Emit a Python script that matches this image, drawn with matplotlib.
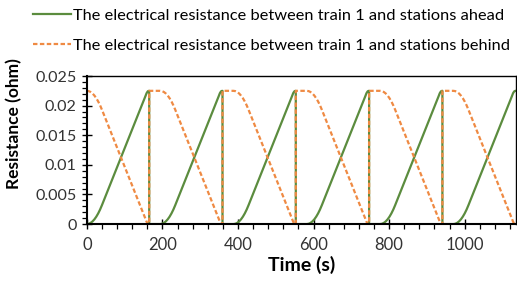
import matplotlib
matplotlib.use("Agg")
import matplotlib.pyplot as plt
import numpy as np
from matplotlib.ticker import MultipleLocator

# Departure times of train 1 (s); each run lasts 165 s, then dwell until next departure
departures = [0, 194, 388, 582, 776, 970]
run_duration = 165
x_max = 1135

# Resistance profile during one run (time offset from departure, ohm)
run_offsets = [0, 5, 10, 15, 20, 25, 30, 35, 40, 60, 80, 100, 120, 140, 155, 158, 161, 163, 165]
ahead_profile = [0, 0.00005, 0.0002, 0.00045, 0.0008, 0.00125, 0.0018, 0.00245, 0.0032,
                 0.0064, 0.0096, 0.0128, 0.016, 0.0192, 0.0216, 0.0221, 0.0224, 0.02248, 0.0225]
behind_profile = [0.0225, 0.02245, 0.0223, 0.02205, 0.0217, 0.02125, 0.0207, 0.02005, 0.0193,
                  0.0161, 0.0129, 0.0097, 0.0065, 0.0033, 0.0009, 0.0004, 0.0001, 0.00002, 0]
ahead_dwell = 0.0
behind_dwell = 0.0225

series_labels = ["The electrical resistance between train 1 and stations ahead",
                 "The electrical resistance between train 1 and stations behind"]
x_ticks = [0, 200, 400, 600, 800, 1000]
y_ticks = [0, 0.005, 0.01, 0.015, 0.02, 0.025]
y_tick_labels = ["0", "0.005", "0.01", "0.015", "0.02", "0.025"]

# Assemble the time series from the per-run profiles
t_all, ahead_all, behind_all = [], [], []
for i, d in enumerate(departures):
    for o, a, b in zip(run_offsets, ahead_profile, behind_profile):
        t_all.append(d + o)
        ahead_all.append(a)
        behind_all.append(b)
    arr = d + run_duration
    if arr < x_max:
        nxt = departures[i + 1] if i + 1 < len(departures) else x_max
        t_all += [arr, nxt]
        ahead_all += [ahead_dwell, ahead_dwell]
        behind_all += [behind_dwell, behind_dwell]

plt.rcParams['font.family'] = ['Lato', 'DejaVu Sans']

fig = plt.figure(figsize=(5.17, 2.88), dpi=100)
ax = fig.add_axes([0.168, 0.222, 0.8295, 0.514])

green = "#5b8c3e"
orange = "#ef8a43"
l1, = ax.plot(t_all, ahead_all, color=green, lw=1.6, label=series_labels[0])
l2, = ax.plot(t_all, behind_all, color=orange, lw=1.6, linestyle=(0, (2, 1.1)), label=series_labels[1])

ax.set_xlim(0, x_max)
ax.set_ylim(0, 0.025)
ax.xaxis.set_minor_locator(MultipleLocator(40))
ax.yaxis.set_minor_locator(MultipleLocator(0.001))
ax.set_yticks(y_ticks)
ax.set_yticklabels(y_tick_labels)
ax.set_xticks(x_ticks)
ax.set_xticklabels([str(v) for v in x_ticks])

ax.tick_params(axis='both', which='major', direction='inout', length=7, width=1.0,
               colors='black', labelcolor='#333333')
ax.tick_params(axis='y', which='major', labelsize=11.6, pad=4)
ax.tick_params(axis='x', which='major', labelsize=12, pad=6)
ax.tick_params(axis='both', which='minor', direction='out', length=3.5, width=0.9)

for side in ['left', 'bottom']:
    ax.spines[side].set_linewidth(1.5)
for side in ['top', 'right']:
    ax.spines[side].set_linewidth(1.0)

ax.set_xlabel("Time (s)", fontsize=14, fontweight='bold', labelpad=2)
ax.set_ylabel("Resistance (ohm)", fontsize=12.5, fontweight='bold')
ax.yaxis.set_label_coords(-0.15, 0.68)

fig.legend(handles=[l1, l2], loc='upper left', bbox_to_anchor=(0.045, 1.004),
           frameon=False, fontsize=11.8, handlelength=2.3, handletextpad=0.15,
           labelspacing=0.95, borderaxespad=0.2)

fig.savefig("out.png", dpi=100)
